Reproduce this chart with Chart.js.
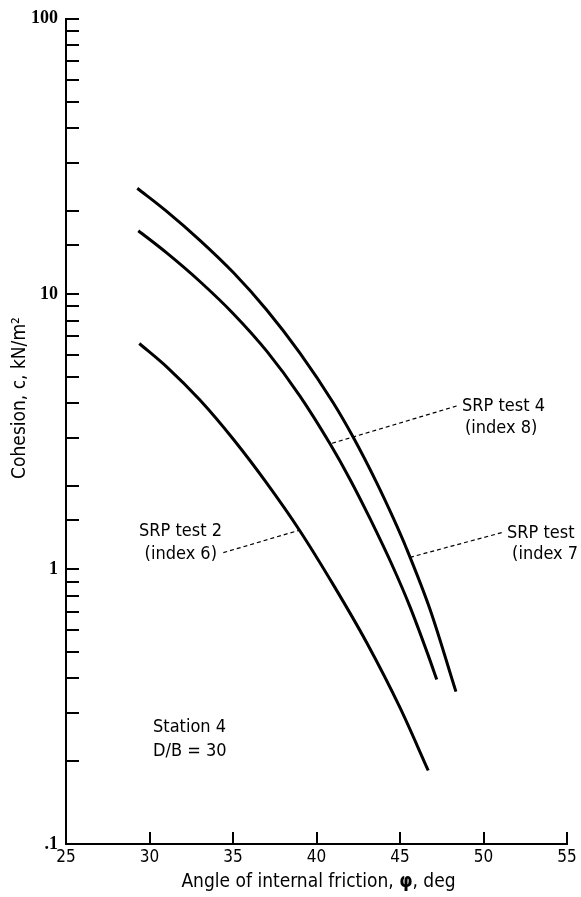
<!DOCTYPE html>
<html><head><meta charset="utf-8">
<script src="https://cdn.jsdelivr.net/npm/chart.js@4.4.1/dist/chart.umd.min.js"></script>
<style>html,body{margin:0;padding:0;background:#fff;} #wrap{width:581px;height:897px;position:relative;}</style>
</head><body><div id="wrap"><canvas id="c" width="581" height="897"></canvas></div>
<script>
// ---- data ----
const xTicks = [25, 30, 35, 40, 45, 50, 55];
const yDecades = [0.1, 1, 10, 100];
const yDecadeLabels = ['.1', '1', '10', '100'];

// SRP test (index 7) - upper curve
const phi7 = [29.27, 31.03, 33.02, 35.02, 37.02, 39.01, 41.01, 42.20, 43.60, 44.60, 45.40, 46.80, 48.35];
const c7   = [24.2, 19.94, 15.65, 11.95, 8.74, 6.09, 4.01, 3.01, 2.06, 1.529, 1.182, 0.712, 0.358];
// SRP test 4 (index 8) - middle curve
const phi8 = [29.33, 31.03, 33.02, 35.02, 37.02, 39.01, 40.81, 42.01, 43.20, 44.60, 45.60, 46.69, 47.20];
const c8   = [16.96, 14.09, 11.09, 8.47, 6.19, 4.25, 2.85, 2.115, 1.526, 1.010, 0.728, 0.485, 0.396];
// SRP test 2 (index 6) - lower curve
const phi6 = [29.39, 31.03, 33.02, 35.02, 37.02, 39.01, 41.01, 43.01, 45.00, 46.69];
const c6   = [6.60, 5.43, 4.11, 2.96, 2.05, 1.374, 0.875, 0.539, 0.313, 0.185];

// leader lines (label end -> curve)
const lead8X = [48.39, 40.81], lead8Y = [3.91, 2.85];
const lead7X = [51.09, 45.55], lead7Y = [1.355, 1.10];
const lead6X = [34.42, 39.01], lead6Y = [1.146, 1.385];

// annotation texts anchored in data units
const notes = [
  {text: 'SRP test 4', x: 48.71, y: 3.91, align: 'left'},
  {text: '(index 8)',  x: 48.89, y: 3.25, align: 'left'},
  {text: 'SRP test',   x: 51.41, y: 1.35, align: 'left'},
  {text: '(index 7',   x: 51.71, y: 1.133, align: 'left'},
  {text: 'SRP test 2', x: 34.34, y: 1.374, align: 'right'},
  {text: '(index 6)',  x: 34.04, y: 1.133, align: 'right'},
  {text: 'Station 4',  x: 30.21, y: 0.265, align: 'left'},
  {text: 'D/B = 30',   x: 30.21, y: 0.217, align: 'left'}
];

const pts = (xs, ys) => xs.map((v, i) => ({x: v, y: ys[i]}));
const SANS = "'DejaVu Sans Condensed', 'DejaVu Sans', sans-serif";

const curve = (data) => ({data, showLine: true, borderColor: '#000', borderWidth: 3,
  pointRadius: 0, cubicInterpolationMode: 'monotone', fill: false});
const leader = (data) => ({data, showLine: true, borderColor: '#000', borderWidth: 1.2,
  borderDash: [4, 3], pointRadius: 0, tension: 0, fill: false});

const deco = {
  id: 'deco',
  afterDraw(chart) {
    const {ctx, scales: {x: xs, y: ys}} = chart;
    ctx.save();
    ctx.strokeStyle = '#000';
    ctx.lineWidth = 2;
    xTicks.forEach(v => {
      const px = Math.round(xs.getPixelForValue(v));
      ctx.beginPath(); ctx.moveTo(px, ys.bottom); ctx.lineTo(px, ys.bottom - 12); ctx.stroke();
    });
    ys.ticks.forEach(t => {
      const py = Math.round(ys.getPixelForValue(t.value));
      ctx.beginPath(); ctx.moveTo(xs.left, py); ctx.lineTo(xs.left + 13, py); ctx.stroke();
    });
    ctx.fillStyle = '#000';
    ctx.textBaseline = 'middle';
    ctx.font = '18px ' + SANS;
    notes.forEach(n => {
      ctx.textAlign = n.align;
      ctx.fillText(n.text, xs.getPixelForValue(n.x), ys.getPixelForValue(n.y));
    });
    // x axis title
    const p1 = 'Angle of internal friction, ', p2 = '\u03C6', p3 = ', deg';
    const F = '19px ' + SANS, FB = 'bold 19px ' + SANS;
    ctx.font = F;
    const w1 = ctx.measureText(p1).width, w3 = ctx.measureText(p3).width;
    ctx.font = FB;
    const w2 = ctx.measureText(p2).width;
    const cx = (xs.left + xs.right) / 2 + 2;
    let sx = cx - (w1 + w2 + w3) / 2;
    ctx.textAlign = 'left';
    ctx.font = F; ctx.fillText(p1, sx, 882);
    ctx.font = FB; ctx.fillText(p2, sx + w1, 882);
    ctx.font = F; ctx.fillText(p3, sx + w1 + w2, 882);
    // y axis title
    ctx.translate(20, 398);
    ctx.rotate(-Math.PI / 2);
    ctx.textAlign = 'center';
    ctx.font = '19px ' + SANS;
    ctx.fillText('Cohesion, c, kN/m\u00B2', 0, 0);
    ctx.restore();
  }
};

new Chart(document.getElementById('c'), {
  type: 'scatter',
  data: {
    datasets: [
      curve(pts(phi7, c7)),
      curve(pts(phi8, c8)),
      curve(pts(phi6, c6)),
      leader(pts(lead8X, lead8Y)),
      leader(pts(lead7X, lead7Y)),
      leader(pts(lead6X, lead6Y))
    ]
  },
  options: {
    responsive: false,
    animation: false,
    layout: {padding: {top: 17, right: 14, left: 0, bottom: 0}},
    plugins: {legend: {display: false}, tooltip: {enabled: false}},
    scales: {
      x: {
        type: 'linear', min: 25, max: 55,
        afterBuildTicks: s => { s.ticks = xTicks.map(v => ({value: v})); },
        afterFit: s => { s.height = 53; },
        grid: {display: false, drawTicks: false},
        border: {display: true, color: '#000', width: 2},
        ticks: {color: '#000', font: {family: SANS, size: 17}, padding: 3, maxRotation: 0, autoSkip: false}
      },
      y: {
        type: 'logarithmic', min: 0.1, max: 100,
        afterFit: s => { s.width = 66; },
        grid: {display: false, drawTicks: false},
        border: {display: true, color: '#000', width: 2},
        ticks: {
          color: '#000', autoSkip: false, padding: 8,
          font: {family: "'Liberation Serif', serif", size: 18, weight: 'bold'},
          callback: v => {
            const i = yDecades.findIndex(d => Math.abs(Math.log10(v) - Math.log10(d)) < 1e-6);
            return i >= 0 ? yDecadeLabels[i] : '';
          }
        }
      }
    }
  },
  plugins: [deco]
});
</script>
</body></html>
